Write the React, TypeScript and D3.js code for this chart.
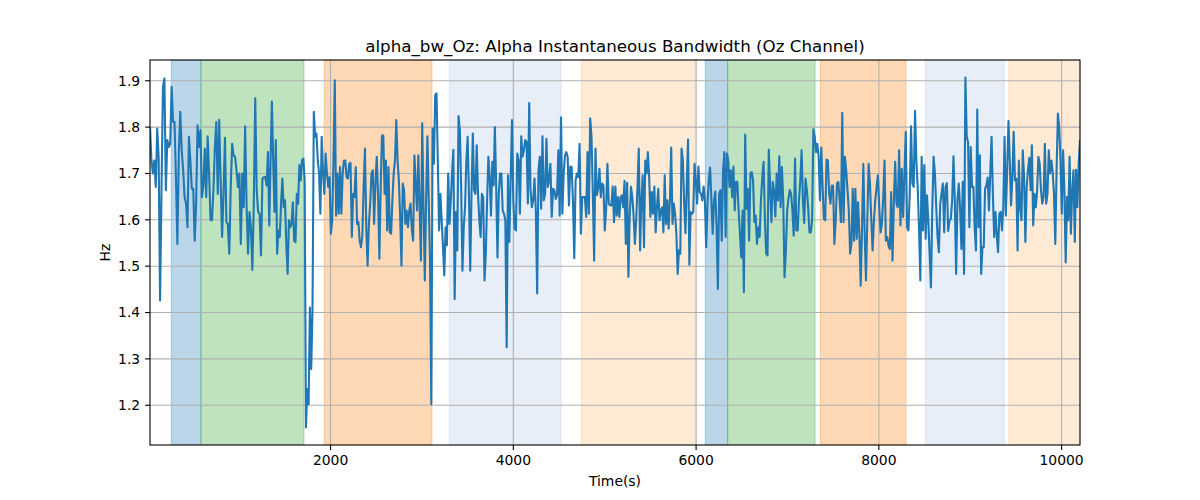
import React from 'react';
import * as d3 from 'd3';

// time breakpoints (s) of the pieces the trace was read in
const segmentBounds = [24, 1286, 2577, 3869, 5160, 6451, 7743, 9034, 10201];

// alpha bandwidth (Hz)
const seg1 = [1.800, 1.728, 1.700, 1.728, 1.671, 1.797, 1.736, 1.426, 1.671, 1.887, 1.905, 1.664, 1.772, 1.757, 1.764, 1.887, 1.811, 1.811, 1.692, 1.548, 1.743, 1.833, 1.750, 1.707, 1.649, 1.635, 1.584, 1.779, 1.728, 1.667, 1.667, 1.555, 1.635, 1.804, 1.757, 1.793, 1.649, 1.671, 1.754, 1.649, 1.780, 1.700, 1.599, 1.599, 1.664, 1.757, 1.811, 1.656, 1.816, 1.685, 1.563, 1.656, 1.777, 1.595, 1.591, 1.527, 1.671, 1.764, 1.739, 1.736, 1.707, 1.671, 1.700, 1.548, 1.700, 1.627, 1.802, 1.631, 1.527, 1.617, 1.584, 1.492, 1.635, 1.862, 1.664, 1.617, 1.613, 1.523, 1.689, 1.692];
const seg2 = [1.692, 1.674, 1.746, 1.588, 1.728, 1.855, 1.728, 1.617, 1.772, 1.527, 1.577, 1.563, 1.635, 1.689, 1.627, 1.642, 1.548, 1.483, 1.599, 1.584, 1.591, 1.638, 1.555, 1.552, 1.656, 1.635, 1.718, 1.685, 1.728, 1.732, 1.685, 1.152, 1.235, 1.202, 1.411, 1.278, 1.411, 1.833, 1.779, 1.786, 1.728, 1.700, 1.613, 1.779, 1.703, 1.656, 1.743, 1.700, 1.671, 1.692, 1.570, 1.599, 1.728, 1.901, 1.609, 1.700, 1.613, 1.714, 1.613, 1.700, 1.728, 1.728, 1.692, 1.689, 1.721, 1.723, 1.563, 1.656, 1.649, 1.714, 1.591, 1.595, 1.555, 1.541, 1.566, 1.671, 1.754, 1.584, 1.501, 1.591, 1.635, 1.700, 1.707, 1.591, 1.678, 1.736, 1.656, 1.516, 1.671, 1.782];
const seg3 = [1.782, 1.656, 1.728, 1.577, 1.714, 1.573, 1.570, 1.642, 1.700, 1.728, 1.815, 1.728, 1.685, 1.606, 1.501, 1.678, 1.664, 1.591, 1.620, 1.584, 1.620, 1.635, 1.577, 1.555, 1.739, 1.678, 1.620, 1.739, 1.627, 1.512, 1.808, 1.627, 1.469, 1.642, 1.780, 1.642, 1.512, 1.202, 1.797, 1.721, 1.869, 1.873, 1.728, 1.577, 1.656, 1.599, 1.541, 1.480, 1.584, 1.545, 1.700, 1.591, 1.642, 1.700, 1.751, 1.429, 1.617, 1.534, 1.824, 1.793, 1.671, 1.490, 1.584, 1.627, 1.728, 1.779, 1.656, 1.490, 1.656, 1.786, 1.664, 1.656, 1.761, 1.656, 1.599, 1.563, 1.656, 1.649, 1.469, 1.527, 1.642, 1.736, 1.692, 1.609, 1.725, 1.674, 1.800, 1.671, 1.519, 1.656, 1.700];
const seg4 = [1.700, 1.620, 1.613, 1.599, 1.325, 1.696, 1.552, 1.685, 1.815, 1.642, 1.581, 1.577, 1.743, 1.728, 1.613, 1.780, 1.736, 1.750, 1.772, 1.768, 1.635, 1.852, 1.664, 1.627, 1.642, 1.689, 1.620, 1.441, 1.707, 1.736, 1.624, 1.780, 1.642, 1.656, 1.775, 1.671, 1.685, 1.721, 1.606, 1.667, 1.664, 1.645, 1.653, 1.750, 1.609, 1.821, 1.613, 1.700, 1.739, 1.746, 1.736, 1.631, 1.715, 1.714, 1.642, 1.517, 1.685, 1.700, 1.692, 1.764, 1.570, 1.649, 1.649, 1.649, 1.606, 1.746, 1.613, 1.819, 1.779, 1.656, 1.512, 1.754, 1.653, 1.667, 1.710, 1.649, 1.678, 1.674, 1.577, 1.620, 1.721, 1.635, 1.631, 1.631, 1.672, 1.595, 1.672, 1.609, 1.649];
const seg5 = [1.606, 1.649, 1.653, 1.627, 1.684, 1.548, 1.680, 1.477, 1.606, 1.671, 1.649, 1.609, 1.548, 1.599, 1.671, 1.754, 1.534, 1.642, 1.696, 1.541, 1.728, 1.700, 1.746, 1.692, 1.606, 1.660, 1.613, 1.672, 1.573, 1.627, 1.667, 1.599, 1.620, 1.627, 1.573, 1.696, 1.591, 1.642, 1.581, 1.642, 1.756, 1.591, 1.635, 1.613, 1.570, 1.483, 1.534, 1.527, 1.754, 1.728, 1.635, 1.571, 1.678, 1.773, 1.503, 1.617, 1.613, 1.617, 1.721, 1.685, 1.635, 1.715, 1.660, 1.656, 1.642, 1.672, 1.642, 1.541, 1.635, 1.685, 1.713, 1.642, 1.570, 1.642, 1.661, 1.584, 1.451, 1.656, 1.664, 1.555, 1.707, 1.746, 1.563, 1.743, 1.728, 1.671, 1.707, 1.649, 1.715, 1.620, 1.682];
const seg6 = [1.682, 1.620, 1.570, 1.519, 1.620, 1.444, 1.784, 1.624, 1.667, 1.555, 1.700, 1.703, 1.685, 1.595, 1.609, 1.548, 1.584, 1.563, 1.642, 1.692, 1.725, 1.606, 1.527, 1.523, 1.751, 1.671, 1.595, 1.682, 1.664, 1.607, 1.700, 1.642, 1.737, 1.627, 1.714, 1.642, 1.476, 1.534, 1.620, 1.646, 1.664, 1.656, 1.620, 1.566, 1.732, 1.577, 1.577, 1.642, 1.685, 1.750, 1.642, 1.593, 1.689, 1.664, 1.627, 1.573, 1.573, 1.599, 1.795, 1.779, 1.746, 1.764, 1.736, 1.642, 1.756, 1.671, 1.602, 1.599, 1.730, 1.728, 1.656, 1.635, 1.674, 1.674, 1.548, 1.599, 1.678, 1.682, 1.642, 1.595, 1.831, 1.595, 1.736, 1.707, 1.664, 1.620, 1.527, 1.548, 1.667, 1.555];
const seg7 = [1.667, 1.559, 1.638, 1.570, 1.458, 1.581, 1.721, 1.570, 1.469, 1.599, 1.721, 1.678, 1.599, 1.534, 1.599, 1.642, 1.671, 1.696, 1.627, 1.573, 1.591, 1.649, 1.728, 1.555, 1.563, 1.545, 1.537, 1.660, 1.512, 1.635, 1.725, 1.635, 1.627, 1.750, 1.588, 1.710, 1.606, 1.700, 1.790, 1.584, 1.577, 1.656, 1.802, 1.678, 1.671, 1.835, 1.728, 1.671, 1.584, 1.469, 1.736, 1.577, 1.718, 1.559, 1.653, 1.599, 1.527, 1.454, 1.620, 1.736, 1.700, 1.627, 1.563, 1.530, 1.635, 1.656, 1.678, 1.573, 1.671, 1.679, 1.576, 1.599, 1.602, 1.642, 1.737, 1.642, 1.483, 1.642, 1.678, 1.624, 1.537, 1.682, 1.483, 1.907, 1.779, 1.768, 1.584, 1.757, 1.671];
const seg8 = [1.671, 1.584, 1.534, 1.838, 1.584, 1.739, 1.483, 1.541, 1.541, 1.667, 1.674, 1.691, 1.620, 1.700, 1.779, 1.656, 1.563, 1.617, 1.566, 1.530, 1.613, 1.617, 1.577, 1.627, 1.779, 1.609, 1.707, 1.813, 1.728, 1.631, 1.692, 1.790, 1.685, 1.689, 1.534, 1.728, 1.627, 1.599, 1.750, 1.692, 1.552, 1.671, 1.707, 1.734, 1.664, 1.761, 1.588, 1.656, 1.627, 1.660, 1.736, 1.721, 1.664, 1.635, 1.649, 1.764, 1.635, 1.656, 1.750, 1.700, 1.728, 1.703, 1.656, 1.548, 1.707, 1.829, 1.800, 1.728, 1.613, 1.750, 1.664, 1.508, 1.649, 1.599, 1.736, 1.570, 1.664, 1.707, 1.552, 1.708, 1.627, 1.721, 1.772];
const segments = [seg1, seg2, seg3, seg4, seg5, seg6, seg7, seg8];

// shaded stages (s)
const bandStarts = [257, 582, 1931, 3300, 4744, 6101, 6345, 7360, 8509, 9420];
const bandEnds = [582, 1709, 3110, 4522, 5995, 6345, 7302, 8298, 9373, 10201];
const bandKinds = ['blue', 'green', 'orange', 'paleBlue', 'paleOrange', 'blue', 'green', 'orange', 'paleBlue', 'paleOrange'];

const bandColor: Record<string, string> = {
  blue: '#1f77b4',
  green: '#2ca02c',
  orange: '#ff7f0e',
  paleBlue: '#aec7e8',
  paleOrange: '#ffbb78',
};

const W = 1200;
const H = 500;
const margin = { top: 60, right: 120, bottom: 55, left: 150 };
const FONT = 'DejaVu Sans, sans-serif';

export default function App() {
  const points = segments.flatMap((vals, k) => {
    const t0 = segmentBounds[k];
    const t1 = segmentBounds[k + 1];
    const last = k === segments.length - 1;
    const step = (t1 - t0) / (last ? vals.length - 1 : vals.length);
    return vals.map((v, i) => ({ t: t0 + i * step, v }));
  });

  const x0 = margin.left;
  const x1 = W - margin.right;
  const y0 = margin.top;
  const y1 = H - margin.bottom;

  const xScale = d3
    .scaleLinear()
    .domain(d3.extent(points, d => d.t) as [number, number])
    .range([x0, x1]);

  const [vmin, vmax] = d3.extent(points, d => d.v) as [number, number];
  const pad = (vmax - vmin) * 0.05;
  const yScale = d3.scaleLinear().domain([vmin - pad, vmax + pad]).range([y1, y0]);

  const xTicks = xScale.ticks(5);
  const yTicks = yScale.ticks(8);

  const line = d3
    .line<{ t: number; v: number }>()
    .x(d => xScale(d.t))
    .y(d => yScale(d.v));

  const tickLen = 4.9;
  const fs = 13.9;

  return (
    <div style={{ position: 'absolute', left: 0, top: 0 }}>
      <svg width={W} height={H} style={{ display: 'block', background: '#fff' }}>
        <defs>
          <clipPath id="plot-area">
            <rect x={x0} y={y0} width={x1 - x0} height={y1 - y0} />
          </clipPath>
        </defs>

        {/* stages */}
        <g clipPath="url(#plot-area)">
          {bandStarts.map((s, i) => (
            <rect
              key={i}
              x={xScale(s)}
              y={y0}
              width={xScale(bandEnds[i]) - xScale(s)}
              height={y1 - y0}
              fill={bandColor[bandKinds[i]]}
              fillOpacity={0.3}
              stroke={bandColor[bandKinds[i]]}
              strokeOpacity={0.3}
              strokeWidth={1.1}
            />
          ))}
        </g>

        {/* grid */}
        <g stroke="#b0b0b0" strokeWidth={1.1}>
          {xTicks.map(t => (
            <line key={'gx' + t} x1={xScale(t)} x2={xScale(t)} y1={y0} y2={y1} />
          ))}
          {yTicks.map(t => (
            <line key={'gy' + t} x1={x0} x2={x1} y1={yScale(t)} y2={yScale(t)} />
          ))}
        </g>

        <path
          d={line(points) ?? ''}
          fill="none"
          stroke="#1f77b4"
          strokeWidth={2.1}
          strokeLinejoin="round"
          clipPath="url(#plot-area)"
        />

        <rect x={x0} y={y0} width={x1 - x0} height={y1 - y0} fill="none" stroke="#000" strokeWidth={1.1} />

        {/* x axis */}
        {xTicks.map(t => (
          <g key={'tx' + t}>
            <line x1={xScale(t)} x2={xScale(t)} y1={y1} y2={y1 + tickLen} stroke="#000" strokeWidth={1.1} />
            <text x={xScale(t)} y={y1 + tickLen + 4.9} dy="0.76em" textAnchor="middle" fontFamily={FONT} fontSize={fs} fill="#000">
              {t}
            </text>
          </g>
        ))}
        {/* y axis */}
        {yTicks.map(t => (
          <g key={'ty' + t}>
            <line x1={x0 - tickLen} x2={x0} y1={yScale(t)} y2={yScale(t)} stroke="#000" strokeWidth={1.1} />
            <text x={x0 - tickLen - 4.9} y={yScale(t)} dy="0.35em" textAnchor="end" fontFamily={FONT} fontSize={fs} fill="#000">
              {t.toFixed(1)}
            </text>
          </g>
        ))}

        <text x={(x0 + x1) / 2} y={486} textAnchor="middle" fontFamily={FONT} fontSize={fs} fill="#000">
          Time(s)
        </text>
        <text
          transform={`translate(${110},${(y0 + y1) / 2}) rotate(-90)`}
          textAnchor="middle"
          fontFamily={FONT}
          fontSize={fs}
          fill="#000"
        >
          Hz
        </text>
        <text x={(x0 + x1) / 2} y={y0 - 8.3} textAnchor="middle" fontFamily={FONT} fontSize={16.7} fill="#000">
          alpha_bw_Oz: Alpha Instantaneous Bandwidth (Oz Channel)
        </text>
      </svg>
    </div>
  );
}
